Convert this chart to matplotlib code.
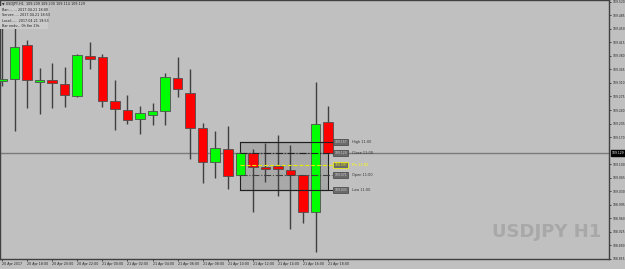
import numpy as np
import matplotlib
matplotlib.use("Agg")
import matplotlib.pyplot as plt
from matplotlib.patches import Rectangle
from matplotlib.transforms import blended_transform_factory

# hourly bars, 20 Apr 16:00 -> 21 Apr 18:00
times = ['20 Apr 2017', '20 Apr 17:00', '20 Apr 18:00', '20 Apr 19:00', '20 Apr 20:00',
         '20 Apr 21:00', '20 Apr 22:00', '20 Apr 23:00', '21 Apr 00:00', '21 Apr 01:00',
         '21 Apr 02:00', '21 Apr 03:00', '21 Apr 04:00', '21 Apr 05:00', '21 Apr 06:00',
         '21 Apr 07:00', '21 Apr 08:00', '21 Apr 09:00', '21 Apr 10:00', '21 Apr 11:00',
         '21 Apr 12:00', '21 Apr 13:00', '21 Apr 14:00', '21 Apr 15:00', '21 Apr 16:00',
         '21 Apr 17:00', '21 Apr 18:00']
opens = [109.315, 109.320, 109.409, 109.313, 109.318, 109.307, 109.276, 109.380, 109.377,
         109.263, 109.240, 109.217, 109.227, 109.237, 109.323, 109.284, 109.193, 109.105,
         109.139, 109.071, 109.129, 109.092, 109.095, 109.084, 109.071, 108.976, 109.209]
highs = [109.458, 109.466, 109.421, 109.349, 109.362, 109.351, 109.385, 109.416, 109.385,
         109.318, 109.279, 109.250, 109.258, 109.336, 109.377, 109.346, 109.206, 109.186,
         109.199, 109.131, 109.139, 109.154, 109.175, 109.149, 109.071, 109.313, 109.250]
lows = [109.302, 109.186, 109.245, 109.230, 109.245, 109.248, 109.274, 109.346, 109.248,
        109.188, 109.204, 109.178, 109.201, 109.201, 109.274, 109.113, 109.051, 109.064,
        109.035, 109.069, 108.976, 109.053, 109.017, 108.931, 108.947, 108.872, 109.129]
closes = [109.320, 109.403, 109.318, 109.318, 109.310, 109.279, 109.383, 109.372, 109.263,
          109.243, 109.214, 109.232, 109.237, 109.326, 109.294, 109.193, 109.105, 109.141,
          109.069, 109.129, 109.092, 109.087, 109.087, 109.071, 108.976, 109.204, 109.129]

# 109.135 sits under the current-price tag, so it is left out
price_ticks = ['109.520', '109.485', '109.450', '109.415', '109.380', '109.345', '109.310',
               '109.275', '109.240', '109.205', '109.170', '109.100', '109.065',
               '109.030', '108.995', '108.960', '108.925', '108.890', '108.855']

# 11:00 bar levels (box indicator)
level_names = ['High 11:00', 'Close 11:00', 'Piv 11:00', 'Open 11:00', 'Low 11:00']
level_values = [109.157, 109.129, 109.097, 109.071, 109.033]
current_price = 109.129

info_lines = ['Bar:....... 2017.04.21 18:00',
              'Server:.... 2017.04.21 18:53',
              'Local:..... 2017.04.21 19:53',
              'Bar ends:.. 0h 6m 29s']

BG = '#c0c0c0'
SMALL = 2.2
plt.rcParams['font.family'] = ['DejaVu Sans']

fig = plt.figure(figsize=(6.25, 2.69), dpi=100, facecolor=BG)
ax = fig.add_axes([0.0, 10 / 269, 609 / 625, 259 / 269])
ax.set_facecolor(BG)

x = np.arange(len(opens))
o = np.array(opens)
c = np.array(closes)
up = c >= o

# box around the 11:00 levels
ax.add_patch(Rectangle((19, level_values[4]), 7, level_values[0] - level_values[4],
                       facecolor='#a9a9a9', edgecolor='#202020', lw=0.8, zorder=1))

# current bid line
ax.axhline(current_price, color='#7a7a7a', lw=1.0, zorder=1.5)

# candles
ax.vlines(x, lows, highs, color='#404040', lw=1.0, zorder=2)
body_lo = np.minimum(o, c)
body_h = np.maximum(np.abs(c - o), 0.004)
colors = np.where(up, '#00ff00', '#ff0000')
ax.bar(x, body_h, bottom=body_lo, width=0.76, color=colors,
       edgecolor='#505050', linewidth=0.6, zorder=3)

# level lines, labels
styles = [('-', '#202020'), ('-.', '#202020'), ('--', '#e8e800'), ('-.', '#404040'), ('-', '#202020')]
for name, val, (ls, col) in zip(level_names, level_values, styles):
    ax.plot([19, 26.3], [val, val], ls=ls, color=col, lw=0.8, zorder=4)
    piv = name.startswith('Piv')
    ax.text(27.0, val, f'{val:.3f}', fontsize=SMALL, ha='center', va='center',
            color='#ffff00' if piv else '#d8d8d8',
            bbox=dict(boxstyle='square,pad=0.35', fc='#6a6a6a',
                      ec='#ffff00' if piv else '#404040', lw=0.5), zorder=5)
    ax.text(27.9, val, name, fontsize=SMALL + 0.3, ha='left', va='center',
            color='#ffff00' if piv else '#303030', zorder=5)

ax.set_xlim(-0.16, 48.4)
ax.set_ylim(108.854, 109.525)

tick_idx = list(range(0, len(times), 2))
ax.set_xticks(tick_idx)
ax.set_xticklabels([times[i] for i in tick_idx], ha='left', fontsize=SMALL + 0.1, color='#202020')
ax.yaxis.tick_right()
ax.set_yticks([float(t) for t in price_ticks])
ax.set_yticklabels(price_ticks, fontsize=SMALL, color='#202020')
ax.tick_params(axis='both', length=1.5, width=0.6, color='#303030', pad=0.8)
for s in ax.spines.values():
    s.set_color('#404040')
    s.set_linewidth(1.0)

# current price tag
tr = blended_transform_factory(ax.transAxes, ax.transData)
ax.text(1.004, current_price, f'{current_price:.3f}', transform=tr, fontsize=SMALL, color='white',
        ha='left', va='center', clip_on=False, zorder=6,
        bbox=dict(boxstyle='square,pad=0.3', fc='black', ec='black'))

# watermark
ax.text(0.897, 0.104, 'USDJPY H1', transform=ax.transAxes, fontsize=13, fontweight='bold',
        family='DejaVu Sans', color='#a8a8a8', ha='center', va='center', zorder=0.5)

# info block top-left
fig.patches.append(Rectangle((0, 1 - 29 / 269), 48 / 625, 23 / 269, transform=fig.transFigure,
                             facecolor='#cbcbcb', edgecolor='none', zorder=0))
fig.text(2 / 625, 1 - 4.5 / 269, '\u25bc USDJPY,H1  109.209 109.230 109.114 109.129',
         fontsize=SMALL + 0.2, color='#202020', va='center', ha='left')
for k, line in enumerate(info_lines):
    fig.text(2 / 625, 1 - (10 + 5.3 * k) / 269, line, fontsize=SMALL + 0.2, color='#202020',
             va='center', ha='left')

fig.savefig('out.png', dpi=100, facecolor=BG)
